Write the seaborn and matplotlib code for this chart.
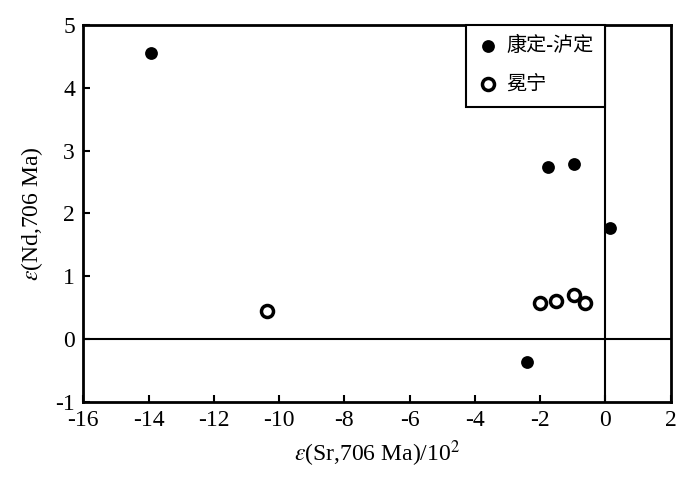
import numpy as np
import pandas as pd
import matplotlib
matplotlib.use("Agg")
import matplotlib.pyplot as plt
import seaborn as sns

# data
kd_sr = [-13.93, -1.75, -0.96, 0.15, -2.40]
kd_nd = [4.55, 2.74, 2.79, 1.77, -0.37]
mn_sr = [-10.38, -2.00, -1.51, -0.95, -0.62]
mn_nd = [0.45, 0.58, 0.61, 0.70, 0.57]
group_names = ["康定-泸定", "冕宁"]
x_ticks = list(range(-16, 3, 2))
y_ticks = list(range(-1, 6))

sns.set_style("ticks")
plt.rcParams['font.family'] = ['Liberation Serif', 'Noto Sans CJK SC']
plt.rcParams['mathtext.fontset'] = 'stix'
plt.rcParams['axes.unicode_minus'] = False
plt.rcParams['axes.edgecolor'] = 'black'
plt.rcParams['xtick.color'] = 'black'
plt.rcParams['ytick.color'] = 'black'
plt.rcParams['text.color'] = 'black'
plt.rcParams['axes.labelcolor'] = 'black'

df_kd = pd.DataFrame({'sr': kd_sr, 'nd': kd_nd})
df_mn = pd.DataFrame({'sr': mn_sr, 'nd': mn_nd})

fig = plt.figure(figsize=(7, 4.86), dpi=100)
ax = fig.add_axes([0.119, 0.1728, 0.839, 0.7758])

ax.axhline(0, color='black', lw=1.5, zorder=1)
ax.axvline(0, color='black', lw=1.5, zorder=1)

sns.scatterplot(data=df_kd, x='sr', y='nd', ax=ax, s=85, color='black',
                edgecolor='black', linewidth=0, label=group_names[0], zorder=3)
sns.scatterplot(data=df_mn, x='sr', y='nd', ax=ax, s=75, facecolor='white',
                edgecolor='black', linewidth=2.5, label=group_names[1], zorder=3)

ax.set_xlim(-16, 2)
ax.set_ylim(-1, 5)
ax.set_xticks(x_ticks)
ax.set_yticks(y_ticks)
ax.tick_params(direction='in', length=5, width=1.5, labelsize=17, pad=6)
for sp in ax.spines.values():
    sp.set_linewidth(2)

ax.set_xlabel(r'$\varepsilon$(Sr,706 Ma)/10$^2$', fontsize=17, labelpad=5)
ax.set_ylabel(r'$\varepsilon$(Nd,706 Ma)', fontsize=17, labelpad=7)

leg = ax.legend(loc='upper right', bbox_to_anchor=(0.889, 1.0), borderaxespad=0,
                fontsize=14.5, frameon=True, fancybox=False, labelspacing=0.95,
                handletextpad=0.4, borderpad=0.6, handlelength=1.0)
leg.get_frame().set_edgecolor('black')
leg.get_frame().set_linewidth(1.5)
leg.get_frame().set_alpha(1)

plt.savefig('out.png', dpi=100)
